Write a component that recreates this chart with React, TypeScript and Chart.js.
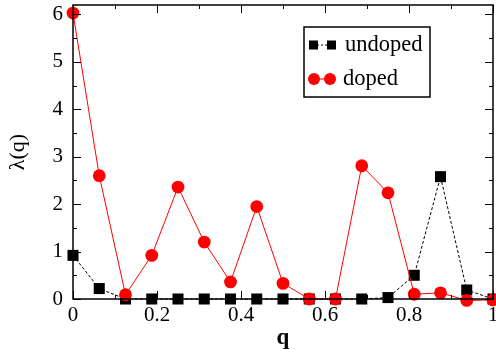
import React, { useEffect, useRef } from "react";
import { Chart, registerables } from "chart.js";

Chart.register(...registerables);

const qValues = [0, 0.0625, 0.125, 0.1875, 0.25, 0.3125, 0.375, 0.4375, 0.5, 0.5625, 0.625, 0.6875, 0.75, 0.8125, 0.875, 0.9375, 1.0];
const undoped = [0.92, 0.22, 0.0, 0.0, 0.0, 0.0, 0.0, 0.0, 0.0, 0.0, 0.0, 0.0, 0.03, 0.5, 2.58, 0.19, 0.0];
const doped = [6.03, 2.6, 0.09, 0.92, 2.36, 1.2, 0.36, 1.95, 0.33, 0.0, 0.0, 2.81, 2.24, 0.1, 0.13, -0.03, -0.02];
const seriesLabels = ["undoped", "doped"];
const xTicks = [0, 0.2, 0.4, 0.6, 0.8, 1];
const yTicks = [0, 1, 2, 3, 4, 5, 6];

const FONT = "'Liberation Serif', 'Times New Roman', serif";

const framePlugin = {
  id: "frameTicks",
  afterDraw(chart: any) {
    const { ctx, chartArea: a, scales } = chart;
    const xs = scales.x;
    const ys = scales.y;
    ctx.save();
    ctx.strokeStyle = "#000";
    ctx.lineWidth = 1.5;
    ctx.strokeRect(a.left, a.top, a.right - a.left, a.bottom - a.top);
    ctx.lineWidth = 1;
    const major = 8;
    const minor = 4;
    ctx.beginPath();
    for (let i = 0; i <= 10; i++) {
      const v = i / 10;
      const px = Math.round(xs.getPixelForValue(v)) + 0.5;
      const len = i % 2 === 0 ? major : minor;
      ctx.moveTo(px, a.bottom);
      ctx.lineTo(px, a.bottom - len);
      ctx.moveTo(px, a.top);
      ctx.lineTo(px, a.top + len);
    }
    for (let i = 0; i <= 12; i++) {
      const v = i / 2;
      const py = Math.round(ys.getPixelForValue(v)) + 0.5;
      const len = i % 2 === 0 ? major : minor;
      ctx.moveTo(a.left, py);
      ctx.lineTo(a.left + len, py);
      ctx.moveTo(a.right, py);
      ctx.lineTo(a.right - len, py);
    }
    ctx.stroke();
    ctx.restore();
  },
};

const legendPlugin = {
  id: "customLegend",
  afterDraw(chart: any) {
    const { ctx, chartArea: a } = chart;
    const bx = a.left + 231;
    const by = a.top + 22;
    const bw = 126;
    const bh = 70;
    ctx.save();
    ctx.fillStyle = "#fff";
    ctx.fillRect(bx, by, bw, bh);
    ctx.strokeStyle = "#000";
    ctx.lineWidth = 1.5;
    ctx.strokeRect(bx, by, bw, bh);
    const y1 = by + 18;
    ctx.lineWidth = 1;
    ctx.setLineDash([2, 2]);
    ctx.beginPath();
    ctx.moveTo(bx + 9, y1);
    ctx.lineTo(bx + 27, y1);
    ctx.stroke();
    ctx.setLineDash([]);
    ctx.fillStyle = "#000";
    ctx.fillRect(bx + 5, y1 - 4.5, 9, 9);
    ctx.fillRect(bx + 23, y1 - 4.5, 9, 9);
    ctx.font = `22.5px ${FONT}`;
    ctx.textBaseline = "middle";
    ctx.fillText(seriesLabels[0], bx + 41, y1);
    const y2 = by + 52;
    ctx.strokeStyle = "#ff0000";
    ctx.beginPath();
    ctx.moveTo(bx + 10, y2);
    ctx.lineTo(bx + 26, y2);
    ctx.stroke();
    ctx.fillStyle = "#ff0000";
    ctx.beginPath();
    ctx.arc(bx + 10, y2, 6, 0, Math.PI * 2);
    ctx.fill();
    ctx.beginPath();
    ctx.arc(bx + 26, y2, 6, 0, Math.PI * 2);
    ctx.fill();
    ctx.fillStyle = "#000";
    ctx.fillText(seriesLabels[1], bx + 39, y2);
    ctx.restore();
  },
};

export default function App() {
  const ref = useRef<HTMLCanvasElement>(null);
  useEffect(() => {
    document.body.style.margin = "0";
    const ctx = ref.current!.getContext("2d")!;
    const chart = new Chart(ctx, {
      type: "line",
      data: {
        datasets: [
          {
            label: seriesLabels[0],
            data: qValues.map((q, i) => ({ x: q, y: undoped[i] })),
            borderColor: "#000",
            backgroundColor: "#000",
            borderWidth: 1,
            borderDash: [3, 2],
            pointStyle: "rect",
            pointRadius: 7.8,
            pointBorderWidth: 0,
            pointBackgroundColor: "#000",
            tension: 0,
            clip: false,
            order: 2,
          },
          {
            label: seriesLabels[1],
            data: qValues.map((q, i) => ({ x: q, y: doped[i] })),
            borderColor: "#ff0000",
            backgroundColor: "#ff0000",
            borderWidth: 1,
            pointStyle: "circle",
            pointRadius: 6.4,
            pointBorderWidth: 0,
            pointBackgroundColor: "#ff0000",
            tension: 0,
            clip: false,
            order: 1,
          },
        ],
      },
      options: {
        animation: false,
        responsive: false,
        layout: { autoPadding: false, padding: { left: 0, right: 3, top: 5, bottom: 0 } },
        plugins: { legend: { display: false }, tooltip: { enabled: false } },
        scales: {
          x: {
            type: "linear",
            min: 0,
            max: 1,
            afterBuildTicks: (s: any) => {
              s.ticks = xTicks.map((v) => ({ value: v }));
            },
            afterFit: (s: any) => {
              s.height = 53;
              s.paddingLeft = 0;
              s.paddingRight = 0;
            },
            grid: { display: false, drawTicks: false },
            border: { display: false },
            ticks: {
              padding: 4,
              color: "#000",
              maxRotation: 0,
              autoSkip: false,
              font: { family: FONT, size: 21 },
              callback: (v: any) => String(Number(Number(v).toFixed(1))),
            },
            title: {
              display: true,
              text: "q",
              color: "#000",
              padding: { top: 0, bottom: 0 },
              font: { family: FONT, size: 23, weight: "bold" },
            },
          },
          y: {
            type: "linear",
            min: 0,
            max: 6.2,
            afterBuildTicks: (s: any) => {
              s.ticks = yTicks.map((v) => ({ value: v }));
            },
            afterFit: (s: any) => {
              s.width = 73;
              s.paddingTop = 0;
              s.paddingBottom = 0;
            },
            grid: { display: false, drawTicks: false },
            border: { display: false },
            ticks: {
              padding: 10,
              color: "#000",
              autoSkip: false,
              font: { family: FONT, size: 21 },
            },
            title: {
              display: true,
              text: "λ(q)",
              color: "#000",
              padding: { top: 5, bottom: 0 },
              font: { family: FONT, size: 22 },
            },
          },
        },
      },
      plugins: [framePlugin, legendPlugin],
    });
    return () => chart.destroy();
  }, []);
  return (
    <div style={{ width: 496, height: 352, background: "#fff" }}>
      <canvas ref={ref} width={496} height={352} style={{ display: "block" }} />
    </div>
  );
}
